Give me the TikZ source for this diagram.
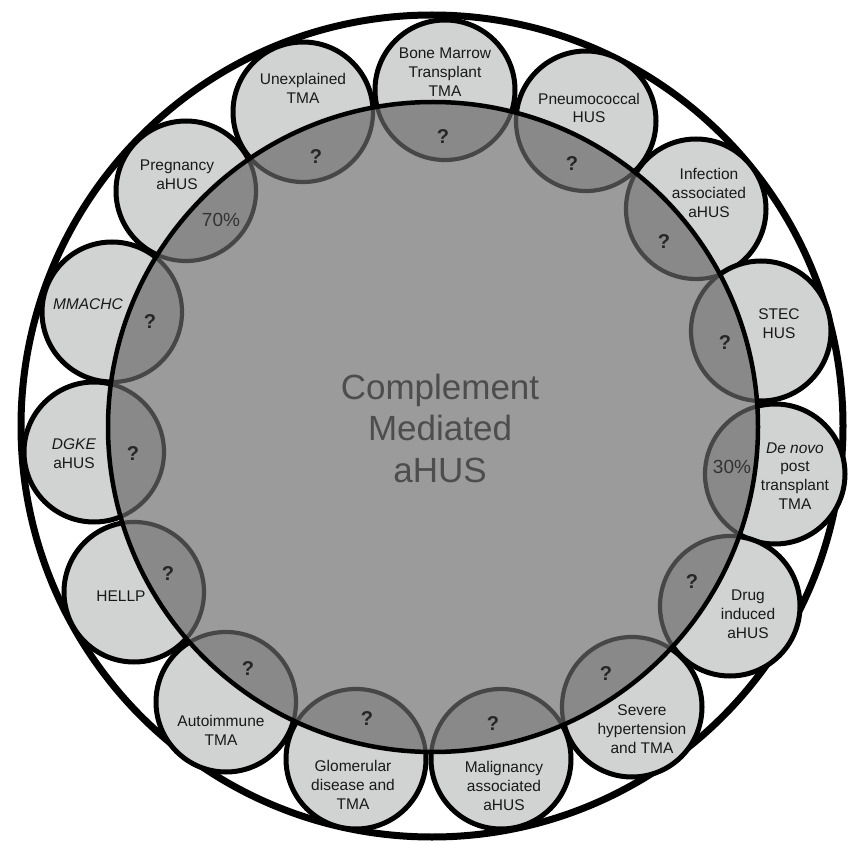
\documentclass[tikz,border=0pt]{standalone}
\usepackage{fontspec}
\setmainfont{Liberation Sans}
\usepackage{tikz}
\definecolor{light}{HTML}{D1D3D2}
\definecolor{overlap}{HTML}{898989}
\definecolor{core}{HTML}{9B9B9B}
\definecolor{rim}{HTML}{474747}
\definecolor{coretext}{HTML}{4D4D4D}

\begin{document}
\begin{tikzpicture}[x=1pt,y=-1pt]
\tikzstyle{ring}=[circle,draw,line width=7pt,minimum size=822pt,inner sep=0pt]
\tikzstyle{sub}=[circle,draw,fill=light,line width=5pt,minimum size=140pt,inner sep=0pt]
\tikzstyle{big}=[circle,fill=core,minimum size=650pt,inner sep=0pt]
\tikzstyle{inner}=[fill=overlap,draw=rim,line width=4.2pt]
\tikzstyle{lbl}=[align=center,inner sep=0pt,text=black!90,font=\fontsize{15.5}{18.8}\selectfont]
\tikzstyle{q}=[inner sep=0pt,font=\fontsize{20}{20}\selectfont\bfseries,text=black!85]
\tikzstyle{pct}=[inner sep=0pt,font=\fontsize{19}{19}\selectfont,text=black!80]
\useasboundingbox (0,0) rectangle (852,845);

\node[ring] (outer) at (432,426) {};

% the fifteen small circles
\node[sub] (bmt) at (445,90) {};
\node[sub] (pneumo) at (586,121) {};
\node[sub] (infect) at (696,209) {};
\node[sub] (stec) at (761,331) {};
\node[sub] (denovo) at (775,474) {};
\node[sub] (drug) at (730,606) {};
\node[sub] (severe) at (632,707) {};
\node[sub] (malig) at (501,759) {};
\node[sub] (glom) at (356,759) {};
\node[sub] (autoimm) at (226,702) {};
\node[sub] (hellp) at (134,592) {};
\node[sub] (dgke) at (94,452) {};
\node[sub] (mmachc) at (112,312) {};
\node[sub] (preg) at (186,191) {};
\node[sub] (unexpl) at (303,112) {};

\node[big] (cm) at (433,427) {};
\begin{scope}
    \clip (cm) circle (325pt);
    \foreach \c in {bmt,pneumo,infect,stec,denovo,drug,severe,malig,glom,autoimm,hellp,dgke,mmachc,preg,unexpl}
        \draw[inner] (\c) circle (70pt);
\end{scope}
\draw[line width=4.5pt] (cm) circle (325pt);

\node[align=center,text=coretext,font=\fontsize{35}{41.5}\selectfont] (cmT) at (440,428) {Complement\\Mediated\\aHUS};

% labels
\node[lbl,shift={(0,-18)}] (bmtT) at (bmt) {Bone Marrow\\Transplant\\TMA};
\node[q,shift={(-2,47)}] (bmtQ) at (bmt) {?};
\node[lbl,shift={(3,-13)}] (pneumoT) at (pneumo) {Pneumococcal\\HUS};
\node[q,shift={(-14,43)}] (pneumoQ) at (pneumo) {?};
\node[lbl,shift={(13,-16)}] (infectT) at (infect) {Infection\\associated\\aHUS};
\node[q,shift={(-32,33)}] (infectQ) at (infect) {?};
\node[lbl,shift={(18,-7)}] (stecT) at (stec) {STEC\\HUS};
\node[q,shift={(-36,12)}] (stecQ) at (stec) {?};
\node[lbl,shift={(20,2)}] (denovoT) at (denovo) {\textit{De novo}\\post\\transplant\\TMA};
\node[pct,shift={(-43,-7)}] (denovoP) at (denovo) {30\%};
\node[lbl,shift={(18,8)}] (drugT) at (drug) {Drug\\induced\\aHUS};
\node[q,shift={(-38,-24)}] (drugQ) at (drug) {?};
\node[lbl,shift={(10,22)}] (severeT) at (severe) {Severe\\hypertension\\and TMA};
\node[q,shift={(-26,-33)}] (severeQ) at (severe) {?};
\node[lbl,shift={(3,27)}] (maligT) at (malig) {Malignancy\\associated\\aHUS};
\node[q,shift={(-8,-35)}] (maligQ) at (malig) {?};
\node[lbl,shift={(-3,26)}] (glomT) at (glom) {Glomerular\\disease and\\TMA};
\node[q,shift={(11,-40)}] (glomQ) at (glom) {?};
\node[lbl,shift={(-5,28)}] (autoimmT) at (autoimm) {Autoimmune\\TMA};
\node[q,shift={(22,-33)}] (autoimmQ) at (autoimm) {?};
\node[lbl,shift={(-13,4)}] (hellpT) at (hellp) {HELLP};
\node[q,shift={(34,-18)}] (hellpQ) at (hellp) {?};
\node[lbl,shift={(-20,2)}] (dgkeT) at (dgke) {\textit{DGKE}\\aHUS};
\node[q,shift={(39,2)}] (dgkeQ) at (dgke) {?};
\node[lbl,shift={(-24,-8)}] (mmachcT) at (mmachc) {\textit{MMACHC}};
\node[q,shift={(38,10)}] (mmachcQ) at (mmachc) {?};
\node[lbl,shift={(-9,-16)}] (pregT) at (preg) {Pregnancy\\aHUS};
\node[pct,shift={(35,29)}] (pregP) at (preg) {70\%};
\node[lbl,shift={(0,-24)}] (unexplT) at (unexpl) {Unexplained\\TMA};
\node[q,shift={(13,45)}] (unexplQ) at (unexpl) {?};

\end{tikzpicture}
\end{document}
